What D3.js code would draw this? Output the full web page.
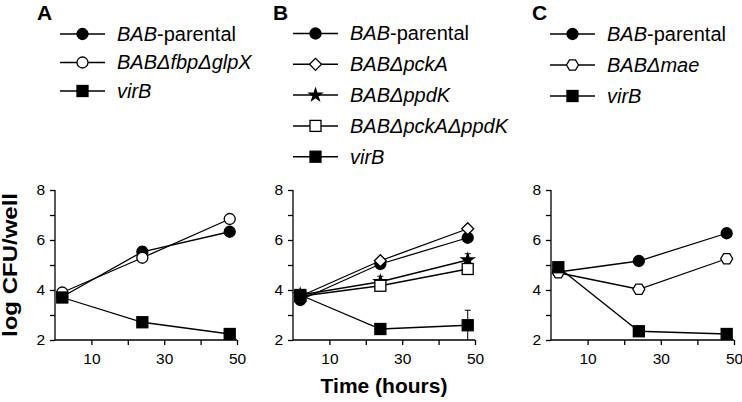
<!DOCTYPE html>
<html>
<head>
<meta charset="utf-8">
<script src="https://cdn.jsdelivr.net/npm/d3@7"></script>
<style>
  body { margin: 0; background: white; }
  svg { font-family: "Liberation Sans", Arial, sans-serif; }
</style>
</head>
<body>
<div id="chart"></div>
<script>
var svgWidth = 742;
var svgHeight = 402;

// data
var hours = [2, 24, 48];
var xTicks = [10, 20, 30, 40, 50];
var xTickLabels = [10, 30, 50];
var yTicks = [2, 3, 4, 5, 6, 7, 8];
var yTickLabels = [2, 4, 6, 8];

// panel A
var parentalA = [3.73, 5.53, 6.33];
var parentalAErr = [0, 0.2, 0];
var fbpGlpX = [3.9, 5.29, 6.84];
var virBA = [3.7, 2.71, 2.24];

// panel B
var parentalB = [3.6, 5.04, 6.09];
var pckA = [3.75, 5.17, 6.45];
var ppdK = [3.8, 4.33, 5.2];
var ppdKErr = [0.15, 0.22, 0.25];
var pckAppdK = [3.75, 4.17, 4.84];
var virBB = [3.8, 2.44, 2.59];
var virBBErr = [0, 0, 0.6];

// panel C
var parentalC = [4.72, 5.16, 6.27];
var mae = [4.69, 4.03, 5.25];
var virBC = [4.91, 2.35, 2.24];

var svg = d3.select("#chart")
  .append("svg")
  .attr("width", svgWidth)
  .attr("height", svgHeight);

svg.append("rect")
  .attr("width", svgWidth)
  .attr("height", svgHeight)
  .attr("fill", "white");

var yScale = d3.scaleLinear().domain([2, 8]).range([340, 190]);

// marker drawing
function drawMarker(g, type, x, y) {
  var s;
  if (type === "dotFill" || type === "dotOpen") {
    s = g.append("circle").attr("cx", x).attr("cy", y).attr("r", 5.5);
  } else if (type === "squareFill" || type === "squareOpen") {
    s = g.append("rect").attr("x", x - 5.5).attr("y", y - 5.5).attr("width", 11).attr("height", 11);
  } else if (type === "diamondOpen") {
    s = g.append("path").attr("d", d3.symbol(d3.symbolSquare, 72)())
      .attr("transform", "translate(" + x + "," + y + ") rotate(45)");
  } else if (type === "star") {
    s = g.append("path").attr("d", d3.symbol(d3.symbolStar, 48)())
      .attr("transform", "translate(" + x + "," + y + ")");
  } else if (type === "hexOpen") {
    var pts = d3.range(6).map(function(i) {
      var a = Math.PI / 3 * i;
      return [x + 6 * Math.cos(a), y + 6 * Math.sin(a)];
    });
    s = g.append("path").attr("d", "M" + pts.join("L") + "Z");
  }
  var open = type.indexOf("Open") >= 0;
  s.attr("fill", open ? "white" : "black")
    .attr("stroke", "black")
    .attr("stroke-width", 1.3);
}

function addLabel(textSel, parts) {
  parts.forEach(function(p) {
    textSel.append("tspan").attr("font-style", p[1] ? "italic" : "normal").text(p[0]);
  });
}

function drawPanel(cfg) {
  var xScale = d3.scaleLinear().domain([0, 50]).range([cfg.x0, cfg.x1]);
  var g = svg.append("g");

  // panel letter
  g.append("text")
    .attr("x", cfg.letterX).attr("y", 20)
    .attr("font-size", "21px").attr("font-weight", "bold")
    .text(cfg.letter);

  // legend
  cfg.series.forEach(function(s, i) {
    var ly = cfg.legendY + i * cfg.legendStep;
    g.append("line")
      .attr("x1", cfg.legendX).attr("x2", cfg.legendX + 45)
      .attr("y1", ly).attr("y2", ly)
      .attr("stroke", "black").attr("stroke-width", 1.5);
    drawMarker(g, s.marker, cfg.legendX + 22.5, ly);
    var t = g.append("text")
      .attr("x", cfg.legendX + 57).attr("y", ly + 6.8)
      .attr("font-size", "20px");
    addLabel(t, s.label);
  });

  // axes
  var bottomAxis = d3.axisBottom(xScale).tickValues(xTicks).tickSize(5)
    .tickFormat(function(d) { return xTickLabels.indexOf(d) >= 0 ? d : ""; });
  var leftAxis = d3.axisLeft(yScale).tickValues(yTicks).tickSize(5)
    .tickFormat(function(d) { return yTickLabels.indexOf(d) >= 0 ? d : ""; });

  var xa = g.append("g").attr("transform", "translate(0,340)").call(bottomAxis);
  xa.select(".domain").attr("d", "M" + cfg.x0 + ",0H" + cfg.x1);
  xa.selectAll("text").attr("font-size", "15.5px").attr("dy", "1.05em").attr("font-family", "Liberation Sans, Arial, sans-serif");
  var ya = g.append("g").attr("transform", "translate(" + cfg.x0 + ",0)").call(leftAxis);
  ya.select(".domain").attr("d", "M0,190V340");
  ya.selectAll("text").attr("font-size", "15.5px").attr("x", -10).attr("font-family", "Liberation Sans, Arial, sans-serif");
  g.selectAll(".domain, .tick line").attr("stroke", "black").attr("stroke-width", 1.3);

  // series lines, error bars, markers
  cfg.series.forEach(function(s) {
    var line = d3.line().x(function(d, i) { return xScale(hours[i]); }).y(function(d) { return yScale(d); });
    g.append("path").datum(s.values)
      .attr("d", line).attr("fill", "none")
      .attr("stroke", "black").attr("stroke-width", 1.3);
  });
  cfg.series.forEach(function(s) {
    if (!s.err) return;
    s.values.forEach(function(v, i) {
      if (!s.err[i]) return;
      var x = xScale(hours[i]);
      var lo = Math.max(2, v - s.err[i]);
      g.append("line").attr("x1", x).attr("x2", x)
        .attr("y1", yScale(lo)).attr("y2", yScale(v + s.err[i]))
        .attr("stroke", "black").attr("stroke-width", 1);
      g.append("line").attr("x1", x - 3).attr("x2", x + 3)
        .attr("y1", yScale(v + s.err[i])).attr("y2", yScale(v + s.err[i]))
        .attr("stroke", "black").attr("stroke-width", 1);
    });
  });
  cfg.series.forEach(function(s) {
    s.values.forEach(function(v, i) {
      drawMarker(g, s.marker, xScale(hours[i]), yScale(v));
    });
  });
}

drawPanel({
  letter: "A", letterX: 37, x0: 55, x1: 237,
  legendX: 60, legendY: 34, legendStep: 28.5,
  series: [
    { label: [["BAB", true], ["-parental", false]], marker: "dotFill", values: parentalA, err: parentalAErr },
    { label: [["BAB\u0394fbp\u0394glpX", true]], marker: "dotOpen", values: fbpGlpX },
    { label: [["virB", true]], marker: "squareFill", values: virBA }
  ]
});

drawPanel({
  letter: "B", letterX: 273, x0: 293, x1: 475,
  legendX: 293, legendY: 33.5, legendStep: 30.8,
  series: [
    { label: [["BAB", true], ["-parental", false]], marker: "dotFill", values: parentalB },
    { label: [["BAB\u0394pckA", true]], marker: "diamondOpen", values: pckA },
    { label: [["BAB\u0394ppdK", true]], marker: "star", values: ppdK, err: ppdKErr },
    { label: [["BAB\u0394pckA\u0394ppdK", true]], marker: "squareOpen", values: pckAppdK },
    { label: [["virB", true]], marker: "squareFill", values: virBB, err: virBBErr }
  ]
});

drawPanel({
  letter: "C", letterX: 532, x0: 551, x1: 734,
  legendX: 550, legendY: 34, legendStep: 31,
  series: [
    { label: [["BAB", true], ["-parental", false]], marker: "dotFill", values: parentalC },
    { label: [["BAB\u0394mae", true]], marker: "hexOpen", values: mae },
    { label: [["virB", true]], marker: "squareFill", values: virBC }
  ]
});

// axis titles
svg.append("text")
  .attr("transform", "translate(17,265) rotate(-90)")
  .attr("text-anchor", "middle")
  .attr("font-size", "20px").attr("font-weight", "bold")
  .attr("textLength", 144).attr("lengthAdjust", "spacingAndGlyphs")
  .text("log CFU/well");

svg.append("text")
  .attr("x", 384).attr("y", 393)
  .attr("text-anchor", "middle")
  .attr("font-size", "21px").attr("font-weight", "bold")
  .text("Time (hours)");
</script>
</body>
</html>
